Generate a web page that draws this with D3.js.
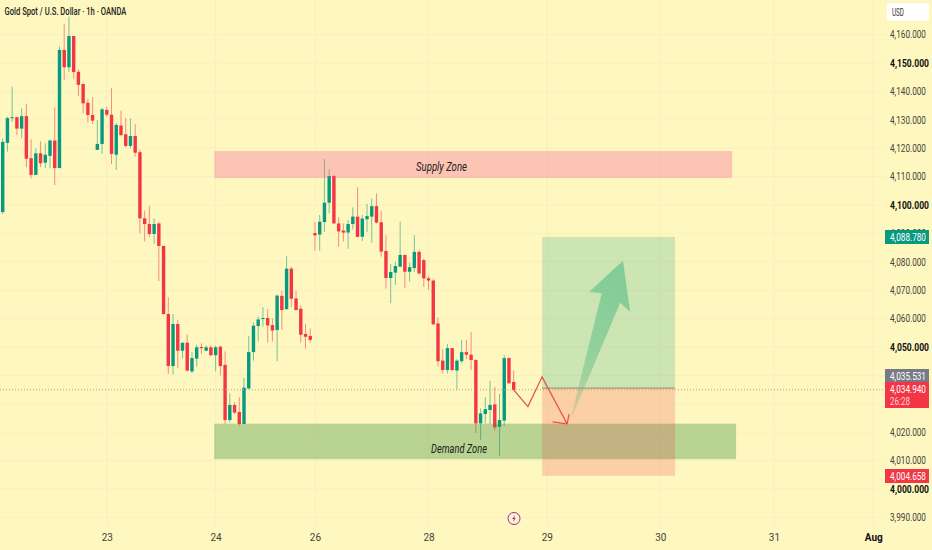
<!DOCTYPE html>
<html>
<head>
<meta charset="utf-8">
<script src="https://cdn.jsdelivr.net/npm/d3@7"></script>
<style>
  html, body { margin: 0; padding: 0; background: #fef7c0; overflow: hidden; }
  svg { display: block; font-family: Roboto, sans-serif; }
</style>
</head>
<body>
<div id="chart_area"></div>
<script>
var opens = [4097.5,4121.9,4130.6,4130.9,4126.9,4131.3,4116.5,4110.6,4118.2,4114.9,4117.3,4122.7,4113.0,4154.6,4148.5,4159.5,4146.9,4142.6,4136.0,4131.7,4119.4,4121.5,4133.5,4131.8,4117.7,4128.0,4124.9,4120.8,4124.3,4118.6,4095.3,4093.3,4089.8,4093.5,4085.6,4061.6,4043.3,4058.1,4048.7,4051.5,4041.4,4045.9,4050.0,4048.7,4049.9,4047.1,4050.1,4043.7,4024.3,4029.6,4027.1,4022.9,4035.4,4048.2,4057.4,4060.0,4060.2,4057.7,4056.0,4068.0,4063.3,4077.6,4067.1,4063.5,4054.6,4053.9,4090.1,4089.6,4094.0,4100.8,4110.2,4093.5,4091.0,4090.3,4093.3,4095.9,4088.8,4095.0,4095.9,4099.6,4093.9,4083.8,4074.3,4076.2,4078.3,4082.4,4076.5,4077.8,4083.5,4080.6,4074.2,4073.4,4058.3,4045.2,4041.9,4049.6,4041.7,4045.0,4048.2,4047.3,4045.4,4023.1,4026.4,4027.8,4029.8,4021.9,4024.1,4046.1,4037.7];
var highs = [4123.5,4131.1,4141.7,4131.1,4134.0,4135.6,4123.1,4120.0,4122.4,4121.7,4123.1,4134.4,4155.8,4163.7,4166.3,4159.5,4147.8,4142.8,4137.4,4137.9,4129.9,4134.2,4134.6,4141.1,4128.8,4133.2,4130.6,4130.5,4128.5,4119.4,4098.0,4099.6,4095.3,4094.0,4085.6,4067.5,4061.6,4059.5,4051.5,4054.5,4048.2,4050.8,4051.3,4050.6,4050.6,4050.6,4050.4,4048.5,4033.7,4030.6,4032.3,4039.1,4053.9,4058.6,4060.7,4064.0,4063.3,4060.1,4068.4,4069.8,4082.0,4078.3,4069.8,4064.7,4058.1,4056.5,4094.0,4096.5,4116.2,4112.6,4110.6,4095.7,4093.5,4094.7,4099.2,4106.2,4096.5,4100.4,4102.3,4104.1,4098.0,4089.4,4079.2,4080.0,4094.2,4082.6,4079.7,4089.4,4084.2,4081.1,4075.0,4073.8,4060.4,4049.2,4051.1,4049.6,4045.7,4052.5,4052.5,4055.3,4045.7,4028.4,4032.3,4038.1,4036.0,4033.5,4047.2,4046.4,4041.7];
var lows = [4096.8,4118.8,4129.3,4124.6,4123.5,4113.3,4109.4,4110.6,4113.3,4112.9,4112.9,4107.0,4113.0,4144.0,4146.9,4144.5,4138.4,4132.3,4129.0,4128.5,4119.4,4118.0,4131.1,4114.4,4112.3,4124.3,4120.3,4120.0,4117.0,4090.0,4087.2,4088.8,4086.3,4073.2,4061.4,4040.5,4040.3,4042.5,4045.9,4041.4,4040.7,4043.1,4047.5,4048.5,4046.8,4041.4,4040.0,4022.9,4023.4,4026.4,4022.2,4022.9,4035.1,4045.2,4051.9,4057.2,4051.5,4051.9,4045.0,4056.0,4063.3,4064.0,4063.0,4051.5,4049.4,4051.5,4083.9,4083.9,4090.6,4097.1,4093.5,4085.3,4087.1,4084.6,4091.4,4088.6,4087.3,4090.5,4086.7,4093.5,4081.8,4070.5,4065.4,4071.9,4078.1,4070.8,4073.0,4076.4,4075.5,4071.2,4070.1,4057.6,4043.1,4040.7,4040.7,4041.7,4035.1,4044.2,4045.7,4041.9,4019.8,4017.3,4023.1,4022.9,4020.5,4011.6,4022.2,4037.2,4034.6];
var closes = [4122.2,4130.6,4130.9,4126.9,4131.3,4116.3,4110.6,4118.2,4114.7,4117.7,4122.7,4113.0,4154.6,4148.5,4159.5,4146.8,4142.3,4135.8,4131.7,4129.7,4121.5,4133.7,4131.8,4118.0,4128.2,4124.6,4120.8,4124.3,4118.4,4095.3,4093.3,4089.8,4093.3,4085.6,4061.6,4043.3,4058.1,4048.7,4051.5,4041.7,4046.1,4049.9,4049.6,4049.9,4047.1,4049.9,4043.3,4024.3,4029.6,4026.9,4022.9,4035.7,4048.2,4057.5,4059.7,4060.2,4057.6,4055.8,4068.1,4063.0,4077.6,4067.0,4063.0,4054.3,4053.6,4052.5,4089.3,4094.1,4100.8,4110.2,4093.5,4090.7,4090.3,4093.3,4095.9,4088.8,4095.2,4096.1,4099.6,4093.8,4083.6,4074.3,4076.4,4078.5,4082.4,4076.5,4078.1,4083.5,4075.9,4074.2,4073.4,4058.0,4045.0,4041.9,4049.6,4041.9,4045.2,4048.2,4047.3,4045.4,4023.1,4026.6,4028.1,4029.6,4021.7,4024.3,4046.1,4037.2,4034.9];

var priceTicks = [3990,4000,4010,4020,4030,4040,4050,4060,4070,4080,4090,4100,4110,4120,4130,4140,4150,4160];
var labelTicks = [3990,4000,4010,4020,4050,4060,4070,4080,4090,4100,4110,4120,4130,4140,4150,4160];
var dateTicks = [22,45,66,90,115,139,163,184];
var dateLabels = ["23","24","26","28","29","30","31","Aug"];

// drawings, bar index / price
var supplyZone = [44.7,154.2,4119,4109.5];
var demandZone = [44.7,155,4023,4010.5];
var longPos = [114,142.1];
var targetPrice = 4088.78, entryPrice = 4035.531, stopPrice = 4004.658, lastPrice = 4034.94;
var redPathX = [108,111,114,119.3];
var redPathY = [4034.9,4029,4039.5,4022.9];
var redHeadX = [116.2,119.7];
var redHeadY = [4023.6,4026.4];
var arrowX = [119.8,126.6,123.9,131.1,132.6,130.5];
var arrowY = [4023.3,4068.9,4069.4,4080.4,4062.4,4065.6];

var width = 932, height = 550;
var green = "#089981", red = "#f23645", bg = "#fef7c0";

var svg = d3.select("#chart_area").append("svg")
  .attr("width", width)
  .attr("height", height)

var x = d3.scaleLinear().domain([0,108]).range([2.7,513.7])
var y = d3.scaleLinear().domain([4000,4100]).range([489,205])

// the source picture is squeezed sideways, so texts get scaled to a given width
function squeeze(sel, w, px, py) {
  sel.each(function(d) {
    var t = d3.select(this)
    var tw = typeof w == "function" ? w(d) : w
    var k = tw / this.getComputedTextLength()
    if (px === undefined) t.attr("transform", `scale(${k},1)`)
    else t.attr("transform", `translate(${px},${py}) scale(${k},1)`)
  })
}

var defs = svg.append("defs")
var grad = defs.append("linearGradient")
  .attr("id", "arrow_fill")
  .attr("x1", 0).attr("y1", 1).attr("x2", 0.4).attr("y2", 0)
grad.append("stop").attr("offset", "0%").attr("stop-color", "#6aa86a").attr("stop-opacity", 0.15)
grad.append("stop").attr("offset", "45%").attr("stop-color", "#5cc08a").attr("stop-opacity", 0.5)
grad.append("stop").attr("offset", "100%").attr("stop-color", "#5cc08a").attr("stop-opacity", 0.65)

// grid
var grid = svg.append("g").attr("stroke", "#f9f0bd")
grid.selectAll(".hline").data(priceTicks).enter().append("line")
  .attr("class", "hline")
  .attr("x1", 0).attr("x2", 885)
  .attr("y1", d => y(d)).attr("y2", d => y(d))
grid.selectAll(".vline").data(dateTicks).enter().append("line")
  .attr("class", "vline")
  .attr("x1", d => x(d)).attr("x2", d => x(d))
  .attr("y1", 0).attr("y2", 526)

// candles
var candles = svg.append("g").selectAll(".candle")
  .data(d3.range(opens.length))
  .enter().append("g")
  .attr("class", "candle")

candles.append("line")
  .attr("x1", d => x(d)).attr("x2", d => x(d))
  .attr("y1", d => y(highs[d])).attr("y2", d => y(lows[d]))
  .attr("stroke", d => closes[d] >= opens[d] ? green : red)
  .attr("stroke-opacity", 0.55)
  .attr("stroke-width", 1)

candles.append("rect")
  .attr("x", d => x(d) - 1.7)
  .attr("width", 3.4)
  .attr("y", d => y(Math.max(opens[d], closes[d])))
  .attr("height", d => Math.max(1, Math.abs(y(opens[d]) - y(closes[d]))))
  .attr("fill", d => closes[d] >= opens[d] ? green : red)

// zones
function zone(z, fill) {
  return svg.append("rect")
    .attr("x", x(z[0]))
    .attr("width", x(z[1]) - x(z[0]))
    .attr("y", y(z[2]))
    .attr("height", y(z[3]) - y(z[2]))
    .attr("fill", fill)
}
zone(supplyZone, "rgba(247,80,150,0.3)")
zone(demandZone, "rgba(56,142,60,0.35)")

zone([longPos[0], longPos[1], targetPrice, entryPrice], "rgba(8,153,129,0.2)")
zone([longPos[0], longPos[1], entryPrice, stopPrice], "rgba(242,54,69,0.2)")

svg.append("line")
  .attr("x1", x(longPos[0])).attr("x2", x(longPos[1]))
  .attr("y1", y(entryPrice)).attr("y2", y(entryPrice))
  .attr("stroke", "#8a8a70")

// last price line
svg.append("line")
  .attr("x1", 0).attr("x2", 885)
  .attr("y1", y(lastPrice)).attr("y2", y(lastPrice))
  .attr("stroke", "#c99a78")
  .attr("stroke-dasharray", "1,2")

svg.append("text")
  .attr("font-size", 12)
  .attr("font-style", "italic")
  .attr("fill", "#222")
  .text("Supply Zone")
  .call(squeeze, 51, 416, 171)

svg.append("text")
  .attr("font-size", 12)
  .attr("font-style", "italic")
  .attr("fill", "#222")
  .text("Demand Zone")
  .call(squeeze, 56, 431, 453)

// hand drawn arrows
var redLine = d3.line().x(d => x(redPathX[d])).y(d => y(redPathY[d]))
svg.append("path")
  .attr("d", redLine(d3.range(redPathX.length)))
  .attr("fill", "none")
  .attr("stroke", "#e8514f")
  .attr("stroke-width", 1.3)
var headEnd = [x(redPathX[3]), y(redPathY[3])]
redHeadX.forEach((hx, i) => {
  svg.append("line")
    .attr("x1", headEnd[0]).attr("y1", headEnd[1])
    .attr("x2", x(hx)).attr("y2", y(redHeadY[i]))
    .attr("stroke", "#e8514f")
    .attr("stroke-width", 1.3)
})

svg.append("polygon")
  .attr("points", arrowX.map((ax, i) => x(ax) + "," + y(arrowY[i])).join(" "))
  .attr("fill", "url(#arrow_fill)")

// event marker
var marker = svg.append("g").attr("transform", "translate(514,518.5)")
marker.append("circle")
  .attr("r", 6)
  .attr("fill", bg)
  .attr("stroke", "#9c27b0")
  .attr("stroke-width", 1)
marker.append("path")
  .attr("d", "M1,-3.5 L-1.8,0.6 L-0.2,0.6 L-1,3.5 L1.8,-0.6 L0.2,-0.6 Z")
  .attr("fill", "#9c27b0")

// axes
var yAxis = d3.axisRight(y)
  .tickValues(labelTicks)
  .tickSize(0)
  .tickPadding(0)
  .tickFormat(d3.format(",.3f"))

var yg = svg.append("g").attr("transform", "translate(890,0)").call(yAxis)
yg.select(".domain").remove()
yg.selectAll("text")
  .attr("font-size", 10.5)
  .attr("font-family", "Roboto, sans-serif")
  .attr("font-weight", d => d % 50 == 0 ? "bold" : "normal")
  .attr("fill", d => d % 50 == 0 ? "#111" : "#44443a")
  .call(squeeze, d => d % 50 == 0 ? 39 : 36)

var xAxis = d3.axisBottom(x)
  .tickValues(dateTicks)
  .tickSize(0)
  .tickPadding(0)
  .tickFormat((d, i) => dateLabels[i])

var xg = svg.append("g").attr("transform", "translate(0,534)").call(xAxis)
xg.select(".domain").remove()
xg.selectAll("text")
  .attr("font-size", 10)
  .attr("font-family", "Roboto, sans-serif")
  .attr("font-weight", (d, i) => dateLabels[i] == "Aug" ? "bold" : "normal")
  .attr("fill", (d, i) => dateLabels[i] == "Aug" ? "#111" : "#44443a")

// price labels
function priceLabel(top, h, fill, txt) {
  svg.append("rect")
    .attr("x", 885).attr("y", top)
    .attr("width", 44).attr("height", h)
    .attr("fill", fill)
  svg.append("text")
    .attr("font-size", 10.5)
    .attr("fill", "#fff")
    .text(txt)
    .call(squeeze, 36, 890, top + 10.5)
}
var fmt = d3.format(",.3f")
priceLabel(230, 14, green, fmt(targetPrice))
priceLabel(369, 13, "#787b86", fmt(entryPrice))
priceLabel(382, 26, red, fmt(lastPrice))
priceLabel(469, 14, red, fmt(stopPrice))
svg.append("text")
  .attr("font-size", 10)
  .attr("fill", "#ffd0d4")
  .text("26:28")
  .call(squeeze, 20, 890, 405)

// usd box
svg.append("rect")
  .attr("x", 887).attr("y", 3)
  .attr("width", 42).attr("height", 18)
  .attr("rx", 2)
  .attr("fill", "#fff")
svg.append("text")
  .attr("font-size", 10)
  .attr("fill", "#333")
  .text("USD")
  .call(squeeze, 12, 892, 16)

// title
svg.append("text")
  .attr("font-size", 11)
  .attr("font-weight", 500)
  .attr("fill", "#222")
  .text("Gold Spot / U.S. Dollar · 1h · OANDA")
  .call(squeeze, 122, 4.5, 15)
</script>
</body>
</html>
